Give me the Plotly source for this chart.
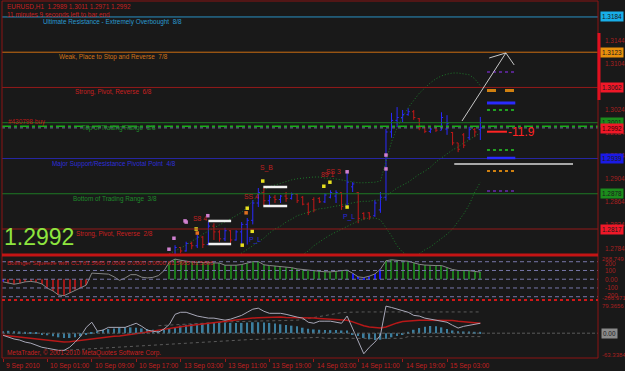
import plotly.graph_objects as go

W, H = 625, 371
def px(X): return X / W
def py(Y): return 1 - Y / H

FONT = "Liberation Sans, Arial, sans-serif"

# ---------------- data ----------------
bar_idx = list(range(87))
tick_bars = [0, 8, 16, 24, 32, 40, 48, 56, 64, 72, 80]
tick_labels = ["9 Sep 2010", "10 Sep 01:00", "10 Sep 09:00", "10 Sep 17:00", "13 Sep 03:00",
               "13 Sep 11:00", "13 Sep 19:00", "14 Sep 03:00", "14 Sep 11:00", "14 Sep 19:00",
               "15 Sep 03:00"]

opens = [1.2712,1.2718,1.2722,1.2708,1.2698,1.2705,1.2715,1.2706,1.2694,1.2682,1.2672,1.2680,1.2690,1.2702,1.2712,1.2725,1.2728,1.2735,1.2730,1.2726,1.2734,1.2742,1.2738,1.2740,1.2748,1.2744,1.2746,1.2752,1.2756,1.2760,1.2764,
         1.2768,1.2785,1.2779,1.2792,1.2788,1.2803,1.2790,1.2822,1.2812,1.2800,1.2814,1.2798,1.2812,1.2825,1.2832,1.2862,1.2880,1.2866,1.2872,1.2868,1.2874,1.2870,1.2877,1.2872,1.2860,1.2868,1.2870,1.2864,1.2872,1.2874,1.2880,1.2856,1.2890,1.2880,1.2844,1.2845,1.2840,1.2850,1.2872,1.2985,1.3005,1.3010,1.3015,1.3020,1.3008,1.2994,1.2986,1.2995,1.2988,1.2990,1.2984,1.2966,1.2980,1.2975,1.2989,1.2989]
highs = [1.2725,1.2730,1.2728,1.2715,1.2712,1.2720,1.2722,1.2712,1.2700,1.2690,1.2684,1.2695,1.2708,1.2718,1.2730,1.2735,1.2740,1.2742,1.2738,1.2740,1.2748,1.2750,1.2746,1.2752,1.2756,1.2752,1.2758,1.2762,1.2765,1.2768,1.2771,
         1.2789,1.2786,1.2795,1.2795,1.2807,1.2805,1.2829,1.2827,1.2815,1.2819,1.2815,1.2815,1.2829,1.2836,1.2867,1.2888,1.2888,1.2876,1.2876,1.2876,1.2881,1.2880,1.2878,1.2874,1.2863,1.2872,1.2872,1.2879,1.2884,1.2884,1.2880,1.2916,1.2898,1.2881,1.2846,1.2846,1.2867,1.2881,1.2990,1.3018,1.3028,1.3023,1.3026,1.3023,1.3009,1.2994,1.2992,1.2995,1.3019,1.3014,1.2985,1.2966,1.2983,1.2994,1.2992,1.3011]
lows = [1.2700,1.2710,1.2705,1.2692,1.2690,1.2700,1.2702,1.2688,1.2675,1.2668,1.2665,1.2675,1.2685,1.2698,1.2708,1.2715,1.2720,1.2722,1.2718,1.2720,1.2728,1.2732,1.2730,1.2735,1.2738,1.2736,1.2740,1.2745,1.2748,1.2752,1.2756,
        1.2766,1.2775,1.2778,1.2782,1.2784,1.2784,1.2790,1.2798,1.2795,1.2796,1.2793,1.2797,1.2790,1.2790,1.2825,1.2855,1.2858,1.2858,1.2862,1.2862,1.2864,1.2868,1.2862,1.2858,1.2841,1.2846,1.2862,1.2862,1.2870,1.2862,1.2850,1.2855,1.2881,1.2827,1.2833,1.2833,1.2838,1.2845,1.2866,1.2975,1.2993,1.3002,1.3013,1.3006,1.2988,1.2983,1.2983,1.2985,1.2988,1.2980,1.2962,1.2950,1.2957,1.2971,1.2976,1.2971]
closes = [1.2718,1.2722,1.2708,1.2698,1.2705,1.2715,1.2706,1.2694,1.2682,1.2672,1.2680,1.2690,1.2702,1.2712,1.2725,1.2728,1.2735,1.2730,1.2726,1.2734,1.2742,1.2738,1.2740,1.2748,1.2744,1.2746,1.2752,1.2756,1.2760,1.2764,1.2768,
          1.2785,1.2779,1.2792,1.2788,1.2803,1.2790,1.2822,1.2812,1.2800,1.2814,1.2798,1.2812,1.2825,1.2832,1.2862,1.2880,1.2866,1.2872,1.2868,1.2874,1.2870,1.2877,1.2866,1.2860,1.2846,1.2850,1.2864,1.2876,1.2880,1.2880,1.2856,1.2898,1.2895,1.2835,1.2836,1.2838,1.2862,1.2872,1.2985,1.3005,1.3010,1.3015,1.3020,1.3010,1.2992,1.2986,1.2990,1.2988,1.3010,1.3000,1.2966,1.2955,1.2962,1.2989,1.2985,1.2992]

bb_upper = [None]*29 + [1.2770,1.2774,
    1.2779,1.2784,1.2789,1.2796,1.2801,1.2808,1.2814,1.2819,1.2824,1.2829,1.2834,1.2840,1.2846,1.2855,1.2865,1.2876,1.2884,1.2890,1.2893,1.2897,1.2900,1.2902,1.2904,1.2905,1.2907,1.2907,1.2907,1.2905,1.2905,1.2904,1.2902,1.2900,1.2898,1.2897,1.2897,1.2897,1.2898,1.2900,1.2933,1.2968,1.2992,1.3011,1.3027,1.3040,1.3052,1.3061,1.3070,1.3077,1.3082,1.3085,1.3087,1.3087,1.3085,1.3084,1.3077,1.3065]
bb_mid = [None]*42 + [1.2769,
    1.2775,1.2781,1.2788,1.2795,1.2801,1.2810,1.2817,1.2822,1.2829,1.2834,1.2840,1.2843,1.2846,1.2848,1.2852,1.2853,1.2855,1.2857,1.2859,1.2860,1.2862,1.2864,1.2865,1.2865,1.2867,1.2867,1.2874,1.2881,1.2888,1.2893,1.2898,1.2905,1.2912,1.2917,1.2924,1.2933,1.2940,1.2947,1.2954,1.2959,1.2966,1.2971,1.2978,1.2983]
bb_lower = [None]*53 + [1.2766,
    1.2772,1.2779,1.2788,1.2795,1.2801,1.2807,1.2812,1.2817,1.2822,1.2827,1.2831,1.2834,1.2836,1.2836,1.2833,1.2819,1.2805,1.2788,1.2777,1.2770,1.2769,1.2774,1.2781,1.2786,1.2793,1.2800,1.2808,1.2817,1.2829,1.2843,1.2859,1.2881,1.2898]

murrey_levels = [1.3184, 1.3123, 1.3062, 1.3001, 1.2939, 1.2878, 1.2817]
murrey_names = ["Ultimate Resistance - Extremely Overbought  8/8",
                "Weak, Place to Stop and Reverse  7/8",
                "Strong, Pivot, Reverse  6/8",
                "Top of Trading Range  5/8",
                "Major Support/Resistance Pivotal Point  4/8",
                "Bottom of Trading Range  3/8",
                "Strong, Pivot, Reverse  2/8"]
murrey_tags = ["1.3184", "1.3123", "1.3062", "1.3001", "1.2939", "1.2878", "1.2817"]
price_ticks = [1.3144, 1.3104, 1.3024, 1.2984, 1.2944, 1.2904, 1.2864, 1.2824, 1.2784]
bid_price = 1.2992
order_price = 1.2995
order_pips = "-11.9"
order_line_price = 1.29854
pivot_levels = [1.30888, 1.30567, 1.30351, 1.30230, 1.29538, 1.29399, 1.29174, 1.28828]
white_level = 1.29295
box_levels_a = [1.28309, 1.27910]
box_levels_b = [1.28897, 1.28568]
arrow_pts = [(82.7, 1.30040), (90.6, 1.31217), (87.6, 1.31130), (92.1, 1.31009)]

dot_x = [46.8, 44.0, 44.9, 57.8, 58.9, 62.0, 34.8, 43.1, 36.9, 33.0, 30.8, 29.9, 62.0, 69.0, 69.0, 32.8, 35.0, 43.8]
dot_y = [1.2900, 1.2853, 1.2813, 1.2891, 1.2898, 1.2855, 1.2817, 1.2789, 1.2840, 1.2829, 1.2801, 1.2782, 1.2916, 1.2945, 1.2921, 1.2831, 1.2810, 1.2845]
dot_kind = ["y", "y", "y", "y", "y", "y", "y", "y", "p", "p", "p", "p", "p", "p", "p", "p", "o", "o"]
pat_text = ["S8 4", "S_B", "SS 4", "SS 3", "89 1", "P_L", "P_L"]
pat_x = [33.9, 46.0, 43.1, 57.8, 57.0, 44.0, 60.9]
pat_y = [1.28360, 1.29226, 1.28724, 1.29157, 1.29105, 1.27980, 1.28378]
pat_col = ["r", "r", "r", "r", "r", "b", "b"]

cci = [-30,-46,-57,-46,-30,-25,-34,-54,-102,-134,-180,-188,-158,-121,-90,-67,
       70,66,55,58,28,-13,14,52,52,23,15,21,41,97,
       198,230,217,204,196,193,193,191,185,185,160,156,160,168,183,201,201,
       165,157,151,143,137,132,118,111,101,100,93,85,84,91,97,104,
       68,27,19,35,60,115,
       211,222,216,212,205,188,170,162,156,156,156,130,111,100,100,98,89,82]
cci_state = (["blue"] + ["red"]*15 + ["none"]*14 + ["green"]*33 + ["blue"]*6 + ["green"]*18)
cci_levels = [200, 100, 0, -100, -200]

osc = [-6,-12,-17,-20,-26,-29,-35,-41,-44,-47,-50,-50,-41,-26,-9,17,32,6,9,17,
       17,17,17,23,29,20,9,6,3,12,26,55,61,61,55,50,47,44,44,41,
       38,41,47,52,61,70,73,64,58,58,58,55,50,47,44,32,29,35,35,35,
       32,29,50,15,-20,-60,-41,-26,-6,79,75,70,64,61,52,50,44,41,38,35,
       32,23,15,20,23,26,29]
signal = [-6,-8,-10,-11,-13,-15,-17,-19,-21,-24,-26,
          -26,-25,-23,-20,-17,-15,-13,-12,-10,-9,
          -8,-6,-4,-2,0,3,6,9,12,15,
          17,19,21,23,26,28,30,32,34,35,
          37,39,41,42,44,45,46,46,47,47,
          46,46,45,45,44,44,43,42,42,41,40,38,
          33,27,22,18,16,15,18,
          25,30,34,36,37,38,38,38,38,38,
          38,37,35,33,31,30,29]
osc_hist = [6,7,6,5,4,3,2,-3,-6,-9,-12,-14,-14,-12,-9,-4,2,6,10,12,14,16,17,17,16,14,12,10,8,10,
            14,18,22,25,27,28,29,30,30,31,31,30,30,30,31,32,32,31,30,28,26,24,22,20,
            16,13,11,10,9,9,9,8,8,-3,-8,-14,-18,-20,-19,-16,-12,-8,-4,
            4,10,15,19,21,20,17,12,8,6,5,5,4,4]
env_up = [None]*28 + [22,23,24,25,26,27,28,29,30,31,32,32,33,
                      33,34,34,35,35,35,36,36,36,36,37,37,38,
                      40,43,46,49,52,55,58,60,61,
                      62,62,62,62,62,62,62,62,62,62,62,62,62,62,62,62,62,62,62,62,62,62,62,62]
env_dn = [None]*11 + [-50,-49,-48,-47,-46,-45,-44,-43,-42,-41,
                      -40,-39,-38,-37,-36,-35,-34,-33,-32,-31,
                      -30,-29,-28,-27,-26,-25,-24,-23,-22,-21,-20,-20,
                      -19,-19,-18,-18,-17,-17,-16,-16,-15,-15,-14,-14,-13,-13,-12,
                      -15,-15,-15,-15,-15,-15,-15,-15,-15,-15,-15,-15,-15,-15,-15,
                      -10,-10,-10,-10,-10,-10,-10,-10,-10,-10,-10,-10,-10,-10]

# ---------------- styles ----------------
BG = "#191919"
FRAME = "#8c1414"
RED_TXT = "#c82020"
SMALL = 6.4
murrey_colors = ["#2a92c4", "#cc6e12", "#941a1a", "#1e7a24", "#2626a2", "#1e7a24", "#941a1a"]
murrey_text_colors = ["#2a9ad0", "#d07418", "#c82020", "#1e8a2a", "#2e2ed8", "#1e8a2a", "#c82020"]
murrey_text_x = [41, 57, 73, 80, 50, 71, 74]
tag_bg = ["#18aee8", "#e8900c", "#f01828", "#1c8c1c", "#1a1ae6", "#1c8c1c", "#f01828"]
pivot_styles = [("#6a2ab0", 1.5, "dot"), ("#d08010", 3, "dash"), ("#2a2aff", 3, "solid"), ("#22a022", 2, "dot"),
                ("#22a022", 2, "dot"), ("#2a2aff", 2.5, "solid"), ("#d08010", 2, "dot"), ("#6a2ab0", 1.5, "dot")]
dot_colors = {"y": "#e8e020", "p": "#d080d0", "o": "#e07020"}
pat_colors = {"r": "#c02020", "b": "#2a2ae0"}
cci_colors = {"blue": "#1a1aff", "red": "#a01818", "green": "#1c7a1c", "none": "rgba(0,0,0,0)"}

fig = go.Figure()

# main panel
fig.add_trace(go.Ohlc(x=bar_idx, open=opens, high=highs, low=lows, close=closes,
                      increasing=dict(line=dict(color="#2a2aff", width=1)),
                      decreasing=dict(line=dict(color="#c01818", width=1)),
                      tickwidth=0.3, xaxis="x", yaxis="y"))
for band in (bb_upper, bb_mid, bb_lower):
    fig.add_trace(go.Scatter(x=bar_idx, y=band, mode="lines", xaxis="x", yaxis="y",
                             line=dict(color="#1c7a2a", width=1, dash="1px,2px"), hoverinfo="skip"))
fig.add_trace(go.Scatter(x=dot_x, y=dot_y, mode="markers", xaxis="x", yaxis="y",
                         marker=dict(size=3.5, symbol="square",
                                     color=[dot_colors[k] for k in dot_kind]), hoverinfo="skip"))

# CCI panel
fig.add_trace(go.Bar(x=bar_idx, y=[v if s != "none" else None for v, s in zip(cci, cci_state)],
                     marker=dict(color=[cci_colors[s] for s in cci_state], line=dict(width=0)),
                     width=0.2, xaxis="x", yaxis="y2", hoverinfo="skip"))
fig.add_trace(go.Scatter(x=bar_idx, y=cci, mode="lines", xaxis="x", yaxis="y2",
                         line=dict(color="#858585", width=1), hoverinfo="skip"))

# bottom panel
fig.add_trace(go.Bar(x=bar_idx, y=osc_hist, marker=dict(color="#3c7e9e", line=dict(width=0)),
                     width=0.3, xaxis="x", yaxis="y3", hoverinfo="skip"))
for env in (env_up, env_dn):
    fig.add_trace(go.Scatter(x=bar_idx, y=env, mode="lines", xaxis="x", yaxis="y3",
                             line=dict(color="#5a5a5a", width=1, dash="dot"), hoverinfo="skip"))
fig.add_trace(go.Scatter(x=bar_idx, y=signal, mode="lines", xaxis="x", yaxis="y3",
                         line=dict(color="#b81818", width=1.5), hoverinfo="skip"))
fig.add_trace(go.Scatter(x=bar_idx, y=osc, mode="lines", xaxis="x", yaxis="y3",
                         line=dict(color="#a8a8b8", width=1), hoverinfo="skip"))

shapes = []
ann = []
def A(text, x, y, color, size=SMALL, xref="paper", yref="paper", xanchor="left", yanchor="middle", **kw):
    ann.append(dict(text=text, x=x, y=y, xref=xref, yref=yref, xanchor=xanchor, yanchor=yanchor,
                    showarrow=False, font=dict(family=FONT, size=size, color=color), **kw))

# Murrey math lines + labels
for lvl, c, name, tc, tx in zip(murrey_levels, murrey_colors, murrey_names, murrey_text_colors, murrey_text_x):
    shapes.append(dict(type="line", xref="paper", x0=px(2), x1=px(598), yref="y", y0=lvl, y1=lvl,
                       line=dict(color=c, width=1)))
    A(name, px(tx), lvl, tc, yref="y", yshift=-5)

# order & bid lines
shapes.append(dict(type="line", xref="paper", x0=px(2), x1=px(598), yref="y", y0=order_price, y1=order_price,
                   line=dict(color="#18b018", width=1.5, dash="dashdot")))
shapes.append(dict(type="line", xref="paper", x0=px(2), x1=px(598), yref="y", y0=bid_price, y1=bid_price,
                   line=dict(color="#6c7896", width=1, dash="dot")))
A("#430798 buy", px(6), order_price, "#b81818", yref="y", yshift=4)

# short pivot lines on the right
for lvl, (c, w, d) in zip(pivot_levels, pivot_styles):
    shapes.append(dict(type="line", xref="x", x0=87.2, x1=92.3, yref="y", y0=lvl, y1=lvl,
                       line=dict(color=c, width=w, dash=d)))
shapes.append(dict(type="line", xref="x", x0=81.3, x1=102.7, yref="y", y0=white_level, y1=white_level,
                   line=dict(color="#d8d8d8", width=1.5)))
for lvl in box_levels_a:
    shapes.append(dict(type="line", xref="x", x0=37.0, x1=41.1, yref="y", y0=lvl, y1=lvl,
                       line=dict(color="#f0f0f0", width=2.5)))
for lvl in box_levels_b:
    shapes.append(dict(type="line", xref="x", x0=46.9, x1=51.2, yref="y", y0=lvl, y1=lvl,
                       line=dict(color="#f0f0f0", width=2.5)))

# drawn arrow
(ax0, ay0), (ax1, ay1), (hx1, hy1), (hx2, hy2) = arrow_pts
for (xa, ya, xb, yb) in [(ax0, ay0, ax1, ay1), (ax1, ay1, hx1, hy1), (ax1, ay1, hx2, hy2)]:
    shapes.append(dict(type="line", xref="x", yref="y", x0=xa, y0=ya, x1=xb, y1=yb,
                       line=dict(color="#c8c8c8", width=1)))

# order profit marker
shapes.append(dict(type="line", xref="x", x0=87.2, x1=90.8, yref="y", y0=order_line_price, y1=order_line_price,
                   line=dict(color="#ff2424", width=2)))
A(order_pips, 90.6, order_line_price, "#ff2424", size=12, xref="x", yref="y")

# pattern labels
for t, x, y, c in zip(pat_text, pat_x, pat_y, pat_col):
    A(t, x, y, pat_colors[c], size=6.8, xref="x", yref="y")

# header texts
A("EURUSD,H1  1.2989 1.3011 1.2971 1.2992", px(5), py(7), RED_TXT)
A("11 minutes 9 seconds left to bar end", px(5), py(14.5), RED_TXT)
A("1.2992", px(2), py(237), "#8ee53f", size=23)
A("Bollinger Squeeze with CCI 81.5665 0.0000 0.0000 0.0000 81.5665 81.5665", px(5), py(262.5), RED_TXT, size=6.1)
A("MetaTrader, © 2001-2010 MetaQuotes Software Corp.", px(5), py(353), RED_TXT)

# right price axis
for t in price_ticks:
    A("%.4f" % t, px(603), t, "#a82020", yref="y")
for lvl, tag, bg in zip(murrey_levels, murrey_tags, tag_bg):
    A(tag, px(600), lvl, "#1a1a1a", yref="y", bgcolor=bg, borderpad=1)
A("%.4f" % bid_price, px(600), bid_price, "#3a0000", yref="y", yshift=-1, bgcolor="#f01828", borderpad=1)

# CCI axis labels
A("268.749", px(600), py(258.5), "#a82020", size=6)
for lv in cci_levels:
    A(("%.2f" % lv) if lv == 0 else str(lv), px(603), lv, "#a82020", yref="y2", yshift=(-1.5 if lv == 200 else (1.5 if lv == -200 else 0)))
A("-266.971", px(600), py(298), "#a82020", size=6)
for lv in cci_levels:
    shapes.append(dict(type="line", xref="paper", x0=px(2), x1=px(598), yref="y2", y0=lv, y1=lv,
                       line=dict(color="#7878aa", width=1, dash="4px,3px")))

# bottom axis labels
A("79.3656", px(600), 79.3656, "#a82020", size=6, yref="y3")
A("0.00", px(601), 0, "#1a1a1a", yref="y3", bgcolor="#8a8a8a", borderpad=1)
A("-63.3384", px(600), py(355), "#a82020", size=6)
shapes.append(dict(type="line", xref="paper", x0=px(2), x1=px(598), yref="y3", y0=0, y1=0,
                   line=dict(color="#5a5a5a", width=1, dash="3px,2px")))

# time labels
for b, t in zip(tick_bars, tick_labels):
    A(t, b, py(366), "#c02020", size=6.6, xref="x", xshift=1)

# frame
shapes.append(dict(type="rect", xref="paper", yref="paper", x0=px(2), x1=px(598), y0=py(358), y1=py(1),
                   line=dict(color=FRAME, width=1)))
shapes.append(dict(type="line", xref="paper", yref="paper", x0=px(2), x1=px(598), y0=py(255), y1=py(255),
                   line=dict(color="#c41414", width=3)))
shapes.append(dict(type="line", xref="paper", yref="paper", x0=px(2), x1=px(598), y0=py(300), y1=py(300),
                   line=dict(color="#d01818", width=2, dash="dot")))
shapes.append(dict(type="rect", xref="paper", yref="paper", x0=px(597.5), x1=px(600.5), y0=py(100), y1=py(33),
                   fillcolor="#e01020", line=dict(width=0)))

fig.update_layout(
    width=W, height=H, margin=dict(l=0, r=0, t=0, b=0),
    paper_bgcolor=BG, plot_bgcolor=BG, showlegend=False, barmode="overlay",
    xaxis=dict(domain=[px(2), px(598)], range=[-0.18, 107.2], anchor="y3",
               tickvals=tick_bars, ticks="outside", ticklen=3, tickcolor="#a01818",
               showticklabels=False, showgrid=False, zeroline=False, showline=False,
               rangeslider=dict(visible=False)),
    yaxis=dict(domain=[py(255), py(2)], range=[1.27720, 1.32099], visible=False),
    yaxis2=dict(domain=[py(299), py(257)], range=[-226, 254], anchor="x", visible=False),
    yaxis3=dict(domain=[py(358), py(301)], range=[-72.3, 93.9], anchor="x", visible=False),
    shapes=shapes, annotations=ann,
)

fig.write_html("out.html", config={"displayModeBar": False})
